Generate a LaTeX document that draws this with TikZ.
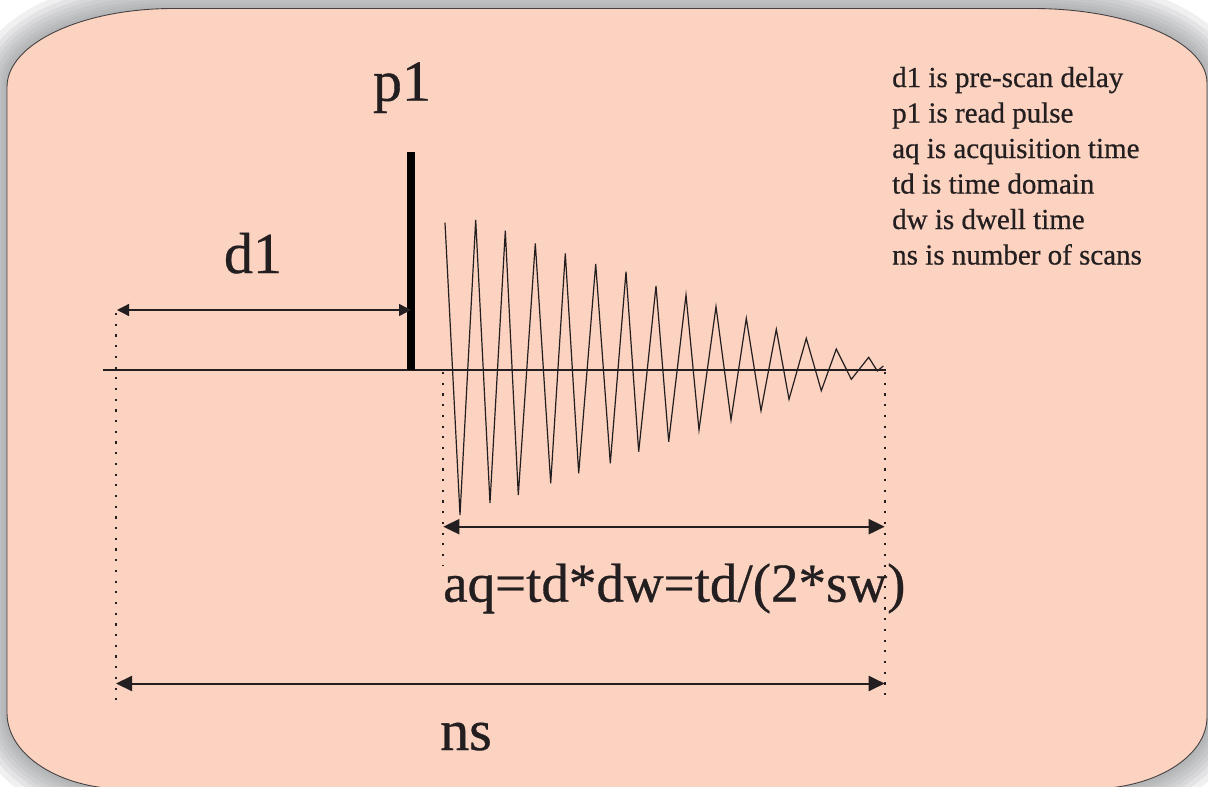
\documentclass[tikz,border=0pt]{standalone}
\usepackage{fontspec}
\setmainfont{Liberation Serif}
\newfontfamily\heavyserif{Liberation Serif}[FakeBold=0.6]
\usetikzlibrary{arrows.meta}
\definecolor{peach}{RGB}{252,210,192}
\definecolor{halo}{RGB}{150,153,158}
\definecolor{ink}{RGB}{35,31,32}
\tikzset{
  bigtxt/.style={font=\heavyserif\fontsize{58}{60}\selectfont, text=ink, inner sep=0pt, anchor=base},
  aqtxt/.style={font=\heavyserif\fontsize{55}{58}\selectfont, text=ink, inner sep=0pt, anchor=base west},
  legend/.style={font=\heavyserif\fontsize{29}{35.5}\selectfont, text=ink, inner sep=0pt, anchor=base west},
  dots/.style={ink, line width=2.2pt, dash pattern=on 2.2pt off 8.5pt},
  thinarrow/.style={ink, line width=1.3pt, {Triangle[length=12pt,width=12pt]}-{Triangle[length=12pt,width=12pt]}},
  thickarrow/.style={ink, line width=2pt, {Triangle[length=16pt,width=15pt]}-{Triangle[length=16pt,width=15pt]}},
}
\begin{document}
\begin{tikzpicture}[x=1pt,y=-1pt]
\clip (0,0) rectangle (1208,787);
\fill[white] (0,0) rectangle (1208,787);
% panel outline path
\def\panel{(7,87) .. controls (7,43.7) and (81.4,8.5) .. (173,8.5)
  -- (1033,8.5) .. controls (1129,8.5) and (1207,41.9) .. (1207,83)
  -- (1207,717) .. controls (1207,756.7) and (1154.6,789) .. (1090,789)
  -- (125,789) .. controls (59.9,789) and (7,755) .. (7,713) -- cycle}
\foreach \w in {64,52,42,34,26,18,12,6}{
  \draw[halo, line width=\w pt, opacity=0.14, line join=round] \panel;
}
\fill[peach] \panel;
\draw[ink!85, line width=0.9pt] \panel;

% coordinates
\coordinate (bl) at (103,370);
\coordinate (br) at (886,370);
\coordinate (dlL) at (116,313);
\coordinate (dlLb) at (116,700);
\coordinate (dlM) at (443.3,372);
\coordinate (dlMb) at (443.3,566);
\coordinate (dlR) at (884.7,372);
\coordinate (dlRb) at (884.7,700);
\coordinate (d1a) at (117,310);
\coordinate (d1b) at (411,310);
\coordinate (aqa) at (443.3,526.7);
\coordinate (aqb) at (884.7,526.7);
\coordinate (nsa) at (116,683.5);
\coordinate (nsb) at (884.7,683.5);

% dotted guides
\draw[dots] (dlL) -- (dlLb);
\draw[dots] (dlM) -- (dlMb);
\draw[dots] (dlR) -- (dlRb);

% baseline
\draw[ink, line width=1.3pt] (bl) -- (br);

% pulse
\fill[black] (406.5,152) rectangle (414.5,370);

% FID
\draw[ink, line width=1.2pt, line join=miter]
 (445,222.7) -- (460,515) -- (475.7,220) -- (490,503) -- (505.3,230.7) -- (518.3,495)
 -- (535.3,243.3) -- (550.7,483.3) -- (565.3,253.3) -- (578.7,473.3) -- (595.7,264)
 -- (610.3,463.3) -- (626,271.7) -- (638.7,451.7) -- (656,286) -- (668.7,441.7)
 -- (686,295) -- (699,430) -- (716,306.7) -- (731,420) -- (746.3,318.3) -- (761,410.7)
 -- (776.3,329.3) -- (789,399.3) -- (806.3,338.3) -- (821.3,390.7) -- (836.3,349)
 -- (851.3,379.3) -- (868.7,357.3) -- (877.3,371) -- (883.3,366);

% arrows
\draw[thinarrow] (d1a) -- (d1b);
\draw[thickarrow] (aqa) -- (aqb);
\draw[thickarrow] (nsa) -- (nsb);

% labels
\node[bigtxt] (p1) at (402,100.7) {p1};
\node[bigtxt] (d1) at (253,273) {d1};
\node[bigtxt] (ns) at (466,750) {ns};
\node[aqtxt] (aq) at (443,601.7) {aq=td*dw=td/(2*sw)};

% legend
\node[legend] (l1) at (892,87) {d1 is pre-scan delay};
\node[legend] (l2) at (892,122.5) {p1 is read pulse};
\node[legend] (l3) at (892,158) {aq is acquisition time};
\node[legend] (l4) at (892,193.5) {td is time domain};
\node[legend] (l5) at (892,229) {dw is dwell time};
\node[legend] (l6) at (892,264.5) {ns is number of scans};
\end{tikzpicture}
\end{document}
